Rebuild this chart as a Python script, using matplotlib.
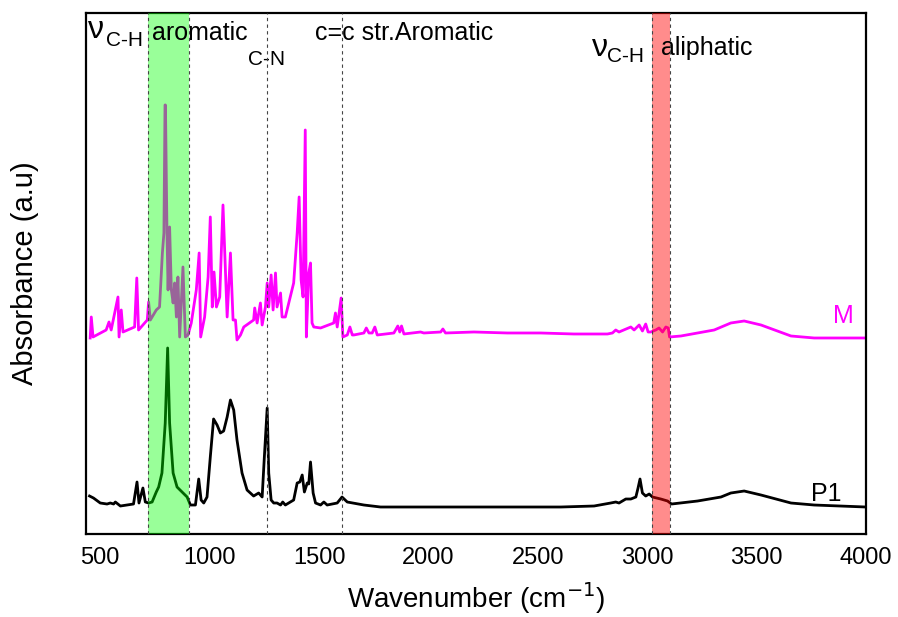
import matplotlib
matplotlib.use("Agg")
import matplotlib.pyplot as plt

plt.rcParams['font.family'] = ['Liberation Sans', 'DejaVu Sans']

# spectrum M (wavenumber, absorbance a.u.)
m_wn = [454, 459, 467, 527, 540, 550, 581, 586, 596, 604, 657, 667, 675, 715, 721, 729,
        756, 771, 784, 791, 796, 798, 805, 810, 817, 825, 833, 840, 848, 855, 863, 878, 889,
        901, 916, 939, 952, 959, 977, 993, 1003, 1012, 1020, 1031, 1046, 1061, 1080, 1095,
        1107, 1118, 1125, 1141, 1156, 1201, 1206, 1217, 1232, 1240, 1255, 1263, 1270, 1281,
        1290, 1301, 1308, 1324, 1331, 1346, 1384, 1400, 1409, 1418, 1427, 1437, 1442, 1453,
        1461, 1468, 1476, 1507, 1567, 1575, 1583, 1601, 1609, 1629, 1641, 1652, 1659, 1705,
        1716, 1728, 1743, 1755, 1766, 1842, 1860, 1869, 1877, 1888, 1964, 1979, 2056, 2066,
        2078, 2208, 2361, 2513, 2665, 2818, 2841, 2856, 2871, 2925, 2940, 2963, 2978, 2993,
        3004, 3016, 3039, 3054, 3070, 3085, 3096, 3102, 3154, 3306, 3382, 3443, 3520, 3657,
        3763, 4000]
m_abs = [1.96, 2.17, 1.97, 2.04, 2.12, 2.04, 2.37, 1.97, 2.24, 2.02, 2.07, 2.56, 2.04, 2.14,
         2.32, 2.14, 2.24, 2.27, 2.81, 3.01, 4.29, 4.29, 3.01, 2.44, 3.07, 2.44, 2.31, 2.51, 2.17,
         2.57, 1.97, 2.67, 1.97, 1.99, 2.11, 2.44, 2.81, 1.97, 2.17, 2.57, 3.17, 2.27, 2.62,
         2.27, 2.37, 3.29, 2.17, 2.81, 2.14, 2.14, 1.94, 1.99, 2.07, 2.14, 2.26, 2.11, 2.31,
         2.09, 2.27, 2.51, 2.27, 2.59, 2.24, 2.61, 2.27, 2.41, 2.17, 2.17, 2.51, 3.01, 3.37,
         2.54, 2.37, 4.04, 1.97, 2.61, 2.71, 2.11, 2.07, 2.06, 2.11, 2.21, 2.07, 2.36, 1.97,
         1.99, 2.07, 1.99, 1.99, 2.01, 2.06, 2.01, 2.01, 2.07, 1.99, 2.01, 2.08, 2.02, 2.08,
         2.00, 2.02, 2.01, 2.02, 2.05, 2.01, 2.02, 2.01, 2.01, 2.00, 2.00, 2.01, 2.04, 2.02,
         2.07, 2.04, 2.09, 2.03, 2.10, 2.02, 2.02, 2.04, 2.06, 2.02, 2.07, 2.06, 1.97, 1.98,
         2.04, 2.11, 2.13, 2.09, 1.98, 1.96, 1.96]

# spectrum P1
p_wn = [451, 469, 500, 531, 546, 561, 569, 592, 652, 668, 677, 695, 706, 721, 737, 756, 767,
        782, 797, 808, 817, 833, 851, 874, 897, 912, 935, 950, 961, 973, 988, 1003, 1018,
        1034, 1049, 1064, 1080, 1095, 1110, 1125, 1148, 1171, 1201, 1224, 1240, 1250, 1263,
        1270, 1281, 1293, 1308, 1324, 1334, 1346, 1384, 1400, 1412, 1423, 1433, 1446, 1453,
        1461, 1473, 1484, 1507, 1522, 1537, 1583, 1605, 1629, 1705, 1781, 2239, 2605, 2757,
        2833, 2856, 2871, 2902, 2925, 2948, 2958, 2967, 2978, 2993, 3009, 3024, 3062, 3093,
        3111, 3230, 3337, 3382, 3443, 3520, 3657, 3763, 4000]
p_abs = [0.38, 0.36, 0.31, 0.30, 0.31, 0.30, 0.32, 0.28, 0.30, 0.52, 0.31, 0.46, 0.32, 0.31,
         0.32, 0.42, 0.47, 0.61, 1.11, 1.86, 1.11, 0.61, 0.47, 0.42, 0.37, 0.29, 0.29, 0.55,
         0.34, 0.31, 0.37, 0.77, 1.15, 1.09, 1.01, 1.03, 1.17, 1.34, 1.24, 0.94, 0.61, 0.44,
         0.38, 0.41, 0.37, 0.77, 1.26, 0.61, 0.34, 0.31, 0.31, 0.29, 0.32, 0.29, 0.34, 0.51,
         0.52, 0.59, 0.42, 0.51, 0.50, 0.72, 0.41, 0.31, 0.29, 0.32, 0.29, 0.31, 0.37, 0.32,
         0.29, 0.27, 0.27, 0.27, 0.28, 0.31, 0.32, 0.31, 0.35, 0.35, 0.37, 0.46, 0.55, 0.41,
         0.38, 0.40, 0.37, 0.35, 0.33, 0.30, 0.33, 0.37, 0.41, 0.43, 0.39, 0.31, 0.29, 0.27]

band_aromatic = (720, 905)
band_aliphatic = (3020, 3105)
marker_lines = [1260, 1605]
xticks = [500, 1000, 1500, 2000, 2500, 3000, 3500, 4000]

fig = plt.figure(figsize=(8.98, 6.17), dpi=100)
ax = fig.add_axes([0.0958, 0.1345, 0.8686, 0.8445])

ax.plot(m_wn, m_abs, color='#ff00ff', lw=2.0, zorder=2)
ax.plot(p_wn, p_abs, color='black', lw=2.0, zorder=2)

ax.axvspan(*band_aromatic, color='#00ff00', alpha=0.4, lw=0, zorder=3)
ax.axvspan(*band_aliphatic, color='#ff0000', alpha=0.45, lw=0, zorder=3)
for x in list(band_aromatic) + marker_lines + list(band_aliphatic):
    ax.axvline(x, color='#444444', lw=0.8, ls=(0, (3, 3)), zorder=4)

ax.set_xlim(435, 4000)
ax.set_ylim(0, 5.21)
ax.set_xticks(xticks)
ax.set_yticks([])
ax.tick_params(axis='x', length=0, pad=9, labelsize=17)
for s in ax.spines.values():
    s.set_linewidth(1.6)

ax.set_xlabel('Wavenumber (cm$^{-1}$)', fontsize=20, labelpad=8)
ax.set_ylabel('Absorbance (a.u)', fontsize=21, labelpad=34)

ta = ax.transAxes
ax.text(0.003, 0.952, 'ν', fontsize=23, transform=ta)
ax.text(0.0255, 0.937, 'C-H', fontsize=15, transform=ta)
ax.text(0.084, 0.948, 'aromatic', fontsize=18, transform=ta)
ax.text(0.208, 0.900, 'C-N', fontsize=15, transform=ta)
ax.text(0.294, 0.948, 'c=c str.Aromatic', fontsize=18, transform=ta)
ax.text(0.648, 0.917, 'ν', fontsize=23, transform=ta)
ax.text(0.668, 0.906, 'C-H', fontsize=15, transform=ta)
ax.text(0.737, 0.919, 'aliphatic', fontsize=18, transform=ta)
ax.text(0.958, 0.405, 'M', fontsize=18, color='#ff00ff', transform=ta)
ax.text(0.929, 0.063, 'P1', fontsize=18, color='black', transform=ta)

fig.savefig('out.png', dpi=100)
